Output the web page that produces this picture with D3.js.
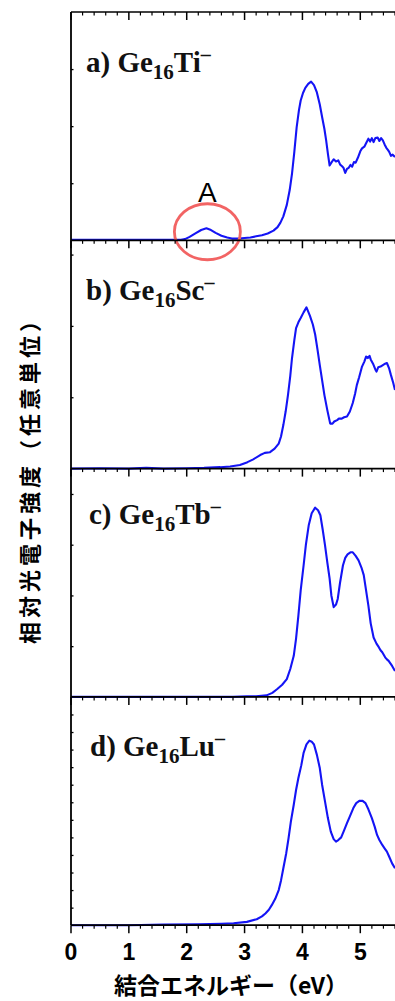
<!DOCTYPE html>
<html lang="ja">
<head>
<meta charset="UTF-8">
<title>Ge16M- spectra</title>
<script src="https://cdn.jsdelivr.net/npm/d3@7"></script>
<style>
  body { margin: 0; background: #fff; }
  svg { display: block; }
</style>
</head>
<body>
<svg width="395" height="1001"></svg>
<script>
// energy axis
var xTicks = [0, 1, 2, 3, 4, 5];
var xTitle = "結合エネルギー（eV）";
var yTitle = "相対光電子強度（任意単位）";

// panel labels: prefix, subscript, element
var prefixes = ["a)", "b)", "c)", "d)"];
var elements = ["Ti", "Sc", "Tb", "Lu"];

// spectra [binding energy eV, intensity a.u.]
var tiSpec = [[0,0.01],[0.5,0.01],[1,0.01],[1.5,0.01],[1.9,0.01],[1.97,0.02],[2.05,0.06],[2.15,0.12],[2.25,0.18],[2.34,0.21],[2.42,0.18],[2.5,0.13],[2.6,0.08],[2.7,0.05],[2.78,0.03],[2.9,0.03],[3.0,0.04],[3.1,0.05],[3.2,0.07],[3.3,0.09],[3.4,0.12],[3.5,0.17],[3.57,0.23],[3.62,0.31],[3.67,0.42],[3.73,0.62],[3.78,0.88],[3.82,1.17],[3.86,1.55],[3.9,1.98],[3.94,2.28],[3.97,2.45],[4.01,2.58],[4.05,2.67],[4.1,2.74],[4.15,2.78],[4.2,2.72],[4.25,2.59],[4.3,2.38],[4.34,2.16],[4.38,1.95],[4.41,1.75],[4.44,1.52],[4.47,1.31],[4.5,1.36],[4.54,1.42],[4.58,1.38],[4.62,1.4],[4.65,1.33],[4.68,1.3],[4.71,1.27],[4.74,1.18],[4.77,1.25],[4.8,1.27],[4.83,1.32],[4.86,1.29],[4.89,1.37],[4.92,1.36],[4.96,1.45],[5.0,1.56],[5.03,1.61],[5.07,1.64],[5.1,1.7],[5.14,1.78],[5.17,1.73],[5.2,1.79],[5.23,1.72],[5.26,1.79],[5.3,1.8],[5.33,1.74],[5.36,1.79],[5.39,1.75],[5.42,1.68],[5.45,1.62],[5.48,1.58],[5.5,1.55],[5.53,1.48],[5.56,1.5],[5.6,1.46]];
var scSpec = [[0,0],[0.5,0.005],[1.0,0],[1.3,0.01],[1.6,0],[2.0,0.005],[2.3,0.01],[2.58,0.02],[2.75,0.03],[2.92,0.05],[3.05,0.09],[3.15,0.13],[3.27,0.19],[3.35,0.22],[3.44,0.23],[3.52,0.28],[3.59,0.35],[3.63,0.45],[3.67,0.61],[3.71,0.8],[3.75,1.03],[3.79,1.3],[3.82,1.55],[3.86,1.8],[3.89,1.97],[3.93,2.05],[3.97,2.11],[4.02,2.19],[4.07,2.26],[4.1,2.2],[4.13,2.14],[4.18,2.02],[4.22,1.88],[4.26,1.67],[4.3,1.45],[4.34,1.24],[4.38,1.03],[4.43,0.82],[4.48,0.63],[4.52,0.63],[4.55,0.66],[4.6,0.68],[4.63,0.7],[4.68,0.7],[4.72,0.72],[4.77,0.73],[4.82,0.8],[4.87,0.92],[4.91,1.05],[4.94,1.17],[4.98,1.28],[5.03,1.43],[5.07,1.5],[5.1,1.57],[5.13,1.55],[5.16,1.58],[5.18,1.53],[5.22,1.47],[5.26,1.39],[5.28,1.36],[5.31,1.42],[5.35,1.43],[5.39,1.45],[5.43,1.47],[5.46,1.48],[5.5,1.4],[5.53,1.31],[5.57,1.2],[5.6,1.1]];
var tbSpec = [[0,0],[1,0],[2,0],[2.8,0],[3.04,0.01],[3.2,0.01],[3.38,0.03],[3.48,0.08],[3.56,0.15],[3.65,0.24],[3.73,0.35],[3.79,0.55],[3.85,0.81],[3.89,1.15],[3.93,1.6],[3.97,2.1],[4.02,2.59],[4.06,3.0],[4.11,3.39],[4.16,3.62],[4.22,3.73],[4.27,3.68],[4.31,3.58],[4.35,3.3],[4.39,2.99],[4.43,2.65],[4.47,2.33],[4.5,2.0],[4.54,1.77],[4.58,1.82],[4.61,1.93],[4.65,2.25],[4.7,2.59],[4.74,2.74],[4.78,2.81],[4.83,2.85],[4.87,2.85],[4.92,2.78],[4.97,2.69],[5.02,2.55],[5.06,2.4],[5.1,2.1],[5.14,1.8],[5.18,1.45],[5.23,1.17],[5.28,1.05],[5.32,0.98],[5.35,0.92],[5.38,0.88],[5.4,0.84],[5.43,0.78],[5.46,0.74],[5.49,0.71],[5.52,0.66],[5.55,0.61],[5.58,0.55],[5.6,0.51]];
var luSpec = [[0,0],[1,0],[1.6,0.03],[2.2,0.05],[2.6,0.08],[2.81,0.11],[3.04,0.19],[3.21,0.34],[3.3,0.5],[3.36,0.67],[3.42,0.88],[3.47,1.14],[3.53,1.5],[3.59,2.0],[3.63,2.55],[3.67,3.24],[3.72,4.1],[3.76,4.95],[3.8,5.9],[3.85,6.86],[3.89,7.7],[3.93,8.38],[3.98,9.1],[4.02,9.81],[4.07,10.3],[4.12,10.51],[4.16,10.45],[4.2,10.29],[4.25,9.7],[4.3,8.95],[4.34,8.0],[4.39,7.05],[4.44,6.1],[4.49,5.33],[4.54,4.9],[4.58,4.76],[4.62,4.85],[4.67,5.0],[4.72,5.4],[4.77,5.81],[4.82,6.2],[4.88,6.67],[4.93,6.95],[4.99,7.09],[5.04,7.08],[5.09,6.95],[5.14,6.6],[5.2,6.1],[5.25,5.6],[5.29,5.14],[5.33,4.85],[5.38,4.57],[5.42,4.38],[5.46,4.19],[5.5,3.9],[5.55,3.52],[5.6,3.24]];

// full scale of each panel (arbitrary units, tick every 1)
var yMax = [4, 3.2, 4.5, 13];

// peak A marker (eV, a.u.) in panel a
var peakA = [2.34, 0.15];

var spectra = [tiSpec, scSpec, tbSpec, luSpec];

var svg = d3.select("svg");
var left = 71, right = 395, top0 = 12, panelH = 228.3;

var x = d3.scaleLinear().domain([0, 5.6]).range([left, right]);

svg.append("clipPath").attr("id", "clip")
    .append("rect").attr("x", left).attr("y", 0).attr("width", right - left).attr("height", 1001);

var minor = d3.range(0, 5.61, 0.2).filter(function (v) { return Math.abs(v - Math.round(v)) > 0.01; });

function drawXAxis(yPos, labels) {
    var g = svg.append("g").attr("transform", "translate(0," + yPos + ")");
    g.append("line").attr("x1", left).attr("x2", right + 2)
        .attr("stroke", "#000").attr("stroke-width", 1.7);
    g.selectAll(".mi").data(minor).enter().append("line")
        .attr("x1", function (d) { return x(d); }).attr("x2", function (d) { return x(d); })
        .attr("y1", 0).attr("y2", 3.5)
        .attr("stroke", "#000").attr("stroke-width", 1.2);
    g.selectAll(".ma").data(xTicks).enter().append("line")
        .attr("x1", function (d) { return x(d); }).attr("x2", function (d) { return x(d); })
        .attr("y1", 0).attr("y2", 8)
        .attr("stroke", "#000").attr("stroke-width", 1.5);
    if (labels) {
        g.selectAll(".tl").data(xTicks).enter().append("text")
            .attr("x", function (d) { return x(d); })
            .attr("y", 35)
            .attr("text-anchor", "middle")
            .attr("font-family", "Liberation Sans, Arial, sans-serif")
            .attr("font-weight", "bold")
            .attr("font-size", 23)
            .text(function (d) { return d; });
    }
}

var line = d3.line();

spectra.forEach(function (spec, i) {
    var top = top0 + i * panelH;
    var y = d3.scaleLinear().domain([0, yMax[i]]).range([top + panelH, top]);

    // left y ticks (unlabelled)
    var ya = d3.axisRight(y).tickValues(d3.range(1, yMax[i], 1)).tickSize(2.5).tickFormat("");
    svg.append("g").attr("transform", "translate(" + left + ",0)").call(ya)
        .call(function (g) { g.select(".domain").remove(); })
        .selectAll("line").attr("stroke-width", 1.3);

    svg.append("path")
        .datum(spec)
        .attr("clip-path", "url(#clip)")
        .attr("d", line.x(function (d) { return x(d[0]); }).y(function (d) { return y(d[1]); }))
        .attr("fill", "none")
        .attr("stroke", "#1414f5")
        .attr("stroke-width", 2.1)
        .attr("stroke-linejoin", "round");

    // panel label
    var lx = [86, 86, 89, 90][i], ly = top + [60, 60, 55, 59][i];
    var t = svg.append("text")
        .attr("x", lx).attr("y", ly)
        .attr("font-family", "Liberation Serif, Times New Roman, serif")
        .attr("font-weight", "bold")
        .attr("font-size", 29)
        .attr("fill", "#111");
    t.append("tspan").text(prefixes[i] + " Ge");
    t.append("tspan").attr("font-size", 21).attr("dy", 7).text("16");
    t.append("tspan").attr("dy", -7).text(elements[i]);
    t.append("tspan").attr("font-size", 20).attr("dy", -11).text("\u2013");

    if (i === 0) {
        svg.append("ellipse")
            .attr("cx", x(peakA[0]) + 1).attr("cy", y(peakA[1]))
            .attr("rx", 33).attr("ry", 28)
            .attr("fill", "none")
            .attr("stroke", "#f26464")
            .attr("stroke-width", 2.8);
        svg.append("text")
            .attr("x", x(peakA[0]) + 1).attr("y", y(peakA[1]) - 30)
            .attr("text-anchor", "middle")
            .attr("font-family", "Liberation Sans, Arial, sans-serif")
            .attr("font-size", 28)
            .text("A");
    }
});

// frames
drawXAxis(top0, false);
for (var k = 1; k <= 4; k++) drawXAxis(top0 + k * panelH, k === 4);
svg.append("line")
    .attr("x1", left).attr("x2", left)
    .attr("y1", top0).attr("y2", top0 + 4 * panelH)
    .attr("stroke", "#000").attr("stroke-width", 1.8);

// axis titles
svg.append("text")
    .attr("x", 231).attr("y", 994)
    .attr("text-anchor", "middle")
    .attr("font-family", "Noto Sans CJK JP")
    .attr("font-weight", "bold")
    .attr("font-size", 23)
    .text(xTitle);

svg.append("text")
    .attr("transform", "translate(38,475) rotate(-90)")
    .attr("text-anchor", "middle")
    .attr("font-family", "Noto Sans CJK JP")
    .attr("font-weight", "bold")
    .attr("font-size", 22)
    .attr("letter-spacing", 4)
    .text(yTitle);
</script>
</body>
</html>
